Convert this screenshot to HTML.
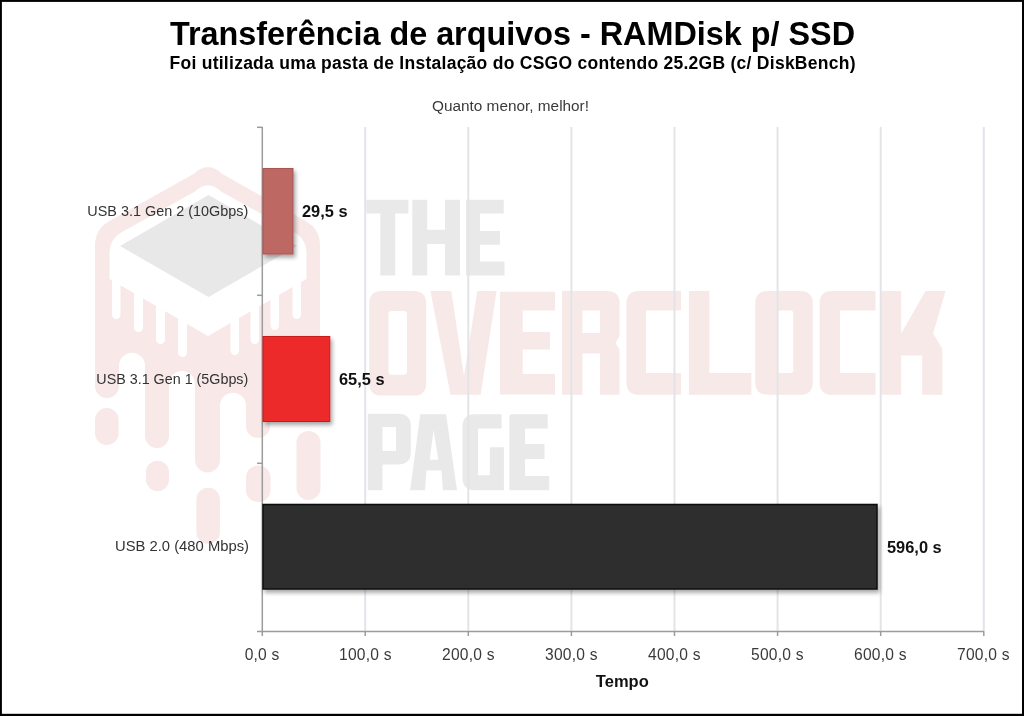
<!DOCTYPE html>
<html><head><meta charset="utf-8">
<style>
html,body{margin:0;padding:0;background:#fff;}
body{width:1024px;height:716px;overflow:hidden;position:relative;}
svg{position:absolute;left:0;top:0;display:block;will-change:transform;}
text{font-family:"Liberation Sans",sans-serif;}
</style></head>
<body>
<svg width="1024" height="716" viewBox="0 0 1024 716">
<defs>
<filter id="sh" x="-10%" y="-10%" width="130%" height="140%">
<feGaussianBlur in="SourceAlpha" stdDeviation="2"/>
<feOffset dx="2" dy="3" result="o"/>
<feComponentTransfer><feFuncA type="linear" slope="0.35"/></feComponentTransfer>
<feMerge><feMergeNode/><feMergeNode in="SourceGraphic"/></feMerge>
</filter>
</defs>
<rect x="0" y="0" width="1024" height="716" fill="#fff"/>

<!-- watermark placeholder -->
<g id="wm">
<!-- logo -->
<path fill="#f8e8e8" d="M95,246 Q95,229 109,221.2 L194,173.8 Q208,160 222,173.8 L306,221.2 Q320,229 320,246 L320,404 A11.5,11.5 0 0 1 297,404 L297,393 A13.5,13.5 0 0 0 270,393 L270,426 A12,12 0 0 1 246,426 L246,405.7 A13,13 0 0 0 220,405.7 L220,460 A12.5,12.5 0 0 1 195,460 L195,384 A13,13 0 0 0 169,384 L169,436 A12,12 0 0 1 145,436 L145,365.7 A13,13 0 0 0 119,365.7 L119,386 A12,12 0 0 1 95,386 Z"/>
<g fill="#f8e8e8">
<rect x="95" y="408" width="23.6" height="37" rx="11.8" ry="11.8"/>
<rect x="146" y="460.7" width="23" height="30.3" rx="11.5" ry="11.5"/>
<rect x="196.4" y="487.8" width="23.5" height="56" rx="11.75" ry="11.75"/>
<rect x="246" y="465.6" width="24.5" height="36.4" rx="12" ry="12"/>
<rect x="296.5" y="431" width="24" height="69" rx="12" ry="12"/>
</g>
<g fill="#ffffff">
<path d="M109.5,254 Q109.5,239 122,232 L195,191.5 Q208,179 221,191.5 L294,232 Q306.5,239 306.5,254 L306.5,279 L208,336 L109.5,279 Z"/>
<rect x="112" y="270" width="8.5" height="49" rx="4.2"/>
<rect x="134" y="280" width="9" height="52" rx="4.5"/>
<rect x="156" y="290" width="9" height="54" rx="4.5"/>
<rect x="178" y="300" width="9" height="57" rx="4.5"/>
<rect x="230.5" y="300" width="8.5" height="55" rx="4.2"/>
<rect x="250.5" y="290" width="8.5" height="54" rx="4.2"/>
<rect x="270.5" y="280" width="8.5" height="50" rx="4.2"/>
<rect x="292.5" y="270" width="8.5" height="49" rx="4.2"/>
</g>
<path fill="#e8e8e8" d="M120,246 L208.5,195 L297,246 L208.5,297 Z"/>
<!-- THE -->
<g fill="#e9e9e9">
<path d="M366.3,199.7 H408.4 V213.4 H395.2 V275.6 H380.3 V213.4 H366.3 Z"/>
<path d="M412.3,199.7 H427.2 V229.8 H445 V199.7 H460 V275.6 H445 V243.9 H427.2 V275.6 H412.3 Z"/>
<path d="M466,199.7 H503.7 V213.4 H480 V231 H500 V244.7 H480 V261.5 H504.5 V275.6 H466 Z"/>
</g>
<!-- PAGE -->
<g fill="#e9e9e9" fill-rule="evenodd">
<path d="M367.8,413.7 H398 Q410.8,413.7 410.8,426.5 V451.7 Q410.8,464.5 398,464.5 H382.5 V490.2 H367.8 Z M382.5,427 V451 H396 V427 Z"/>
<path d="M410.2,490.2 L420.3,414.2 H446.1 L457,490.2 H443 L441.5,470.6 H426.5 L425,490.2 Z M433.6,430 L438.3,459.7 H429.7 Z"/>
<path d="M475,414.2 H501.6 V428.4 H478 V475.3 H489.8 V447.2 H503.9 V490.2 H475 Q462.5,490.2 462.5,477.7 V426.7 Q462.5,414.2 475,414.2 Z"/>
<path d="M512,414.2 H547.7 V428.4 H525 V444 H544.5 V458.9 H525 V476 H549.2 V490.2 H509.4 V416.8 Q509.4,414.2 512,414.2 Z"/>
</g>
<!-- OVERCLOCK -->
<g fill="#f8e9e9" fill-rule="evenodd">
<path d="M382,290.9 H413.5 Q426.2,290.9 426.2,303.6 V382.9 Q426.2,395.6 413.5,395.6 H382 Q369.2,395.6 369.2,382.9 V303.6 Q369.2,290.9 382,290.9 Z M391.5,311 Q388.5,311 388.5,314 V371.7 Q388.5,374.7 391.5,374.7 H403.9 Q406.9,374.7 406.9,371.7 V314 Q406.9,311 403.9,311 Z"/>
<path d="M430.4,290.9 H451.3 L464,376 L477.3,290.9 H496.6 L480.7,394.8 H450.5 Z"/>
<path d="M500,291.8 H555 V310.4 H522.7 V331.9 H550 V349.5 H522.7 V373.9 H555 V394.6 H500 Z"/>
<path d="M562,291 H607 Q619.6,291 619.6,303.6 V336 L615.5,343 L619.6,350 V394.8 H600 V353.4 H582.5 V394.8 H562 Z M582.5,310.4 V332.9 H600 V310.4 Z"/>
<path d="M639,291 H681 V310.4 H646 V372.9 H681 V394.8 H639 Q626.4,394.8 626.4,382.2 V303.6 Q626.4,291 639,291 Z"/>
<path d="M688.9,291 H709.4 V372.9 H751.4 V394.8 H688.9 Z"/>
<path d="M768,291 H800 Q812.8,291 812.8,303.6 V382.2 Q812.8,394.8 800,394.8 H768 Q755.2,394.8 755.2,382.2 V303.6 Q755.2,291 768,291 Z M780.7,310.4 Q777.7,310.4 777.7,313.4 V369.9 Q777.7,372.9 780.7,372.9 H790.3 Q793.3,372.9 793.3,369.9 V313.4 Q793.3,310.4 790.3,310.4 Z"/>
<path d="M832,291 H875.5 V310.4 H840 V372.9 H875.5 V394.8 H832 Q819.6,394.8 819.6,382.2 V303.6 Q819.6,291 832,291 Z"/>
<path d="M881.1,290.9 H901.2 V333.6 L925.5,290.9 H945.6 L933.1,333.6 L942.3,348.7 V394.8 H922.2 V355.4 H901.2 V394.8 H881.1 Z"/>
</g>
</g>

<!-- gridlines -->
<g stroke="#e2e4e8" stroke-width="2">
<line x1="365.2" y1="127" x2="365.2" y2="632"/>
<line x1="468.3" y1="127" x2="468.3" y2="632"/>
<line x1="571.4" y1="127" x2="571.4" y2="632"/>
<line x1="674.5" y1="127" x2="674.5" y2="632"/>
<line x1="777.6" y1="127" x2="777.6" y2="632"/>
<line x1="880.7" y1="127" x2="880.7" y2="632"/>
<line x1="983.8" y1="127" x2="983.8" y2="632"/>
</g>

<!-- axes -->
<g stroke="#9c9c9c" stroke-width="1.5" fill="none">
<line x1="262.3" y1="127" x2="262.3" y2="636"/>
<line x1="257" y1="631.5" x2="984" y2="631.5"/>
<line x1="257" y1="127.3" x2="262.3" y2="127.3"/>
<line x1="257" y1="295.3" x2="262.3" y2="295.3"/>
<line x1="257" y1="463.3" x2="262.3" y2="463.3"/>
<line x1="365.2" y1="631.5" x2="365.2" y2="636"/>
<line x1="468.3" y1="631.5" x2="468.3" y2="636"/>
<line x1="571.4" y1="631.5" x2="571.4" y2="636"/>
<line x1="674.5" y1="631.5" x2="674.5" y2="636"/>
<line x1="777.6" y1="631.5" x2="777.6" y2="636"/>
<line x1="880.7" y1="631.5" x2="880.7" y2="636"/>
<line x1="983.8" y1="631.5" x2="983.8" y2="636"/>
</g>

<!-- bars -->
<g filter="url(#sh)">
<rect x="263" y="168.5" width="30" height="85.5" fill="#bd6764" stroke="#a95552" stroke-width="1"/>
<rect x="263" y="336.5" width="66.8" height="85" fill="#ec2a2a" stroke="#c81e1e" stroke-width="1"/>
<rect x="263" y="504.5" width="614" height="84.5" fill="#2d2d2d" stroke="#0a0a0a" stroke-width="1.5"/>
</g>

<!-- titles -->
<text x="170" y="44.7" font-size="32.3" font-weight="bold" fill="#000" textLength="685" lengthAdjust="spacingAndGlyphs">Transferência de arquivos - RAMDisk p/ SSD</text>
<text x="169.5" y="68.7" font-size="17.5" font-weight="bold" fill="#000" textLength="686" lengthAdjust="spacing">Foi utilizada uma pasta de Instalação do CSGO contendo 25.2GB (c/ DiskBench)</text>
<text x="432" y="111.4" font-size="15.3" fill="#3a3a3a" textLength="157" lengthAdjust="spacingAndGlyphs">Quanto menor, melhor!</text>

<!-- category labels -->
<g font-size="15" fill="#333" text-anchor="end">
<text x="248.3" y="215.6" textLength="161" lengthAdjust="spacingAndGlyphs">USB 3.1 Gen 2 (10Gbps)</text>
<text x="248.3" y="383.7" textLength="152" lengthAdjust="spacingAndGlyphs">USB 3.1 Gen 1 (5Gbps)</text>
<text x="249" y="551.4" textLength="134" lengthAdjust="spacingAndGlyphs">USB 2.0 (480 Mbps)</text>
</g>

<!-- value labels -->
<g font-size="16.4" font-weight="bold" fill="#111">
<text x="302" y="217">29,5 s</text>
<text x="339" y="385">65,5 s</text>
<text x="887" y="553.2">596,0 s</text>
</g>

<!-- axis labels -->
<g font-size="15.6" fill="#3a3a3a" text-anchor="middle" lengthAdjust="spacingAndGlyphs">
<text x="262" y="659.7" textLength="34.5">0,0 s</text>
<text x="365.3" y="659.7" textLength="52.5">100,0 s</text>
<text x="468.3" y="659.7" textLength="52.5">200,0 s</text>
<text x="571.3" y="659.7" textLength="52.5">300,0 s</text>
<text x="674.3" y="659.7" textLength="52.5">400,0 s</text>
<text x="777.3" y="659.7" textLength="52.5">500,0 s</text>
<text x="880.3" y="659.7" textLength="52.5">600,0 s</text>
<text x="983.3" y="659.7" textLength="52.5">700,0 s</text>
</g>
<text x="622.3" y="687" font-size="16.5" font-weight="bold" fill="#111" text-anchor="middle">Tempo</text>

<!-- border -->
<g fill="#000"><rect x="0" y="0" width="1024" height="1.9"/><rect x="0" y="0" width="1.9" height="716"/><rect x="1022" y="0" width="2" height="716"/><rect x="0" y="713.8" width="1024" height="2.2"/></g>
</svg>
</body></html>
